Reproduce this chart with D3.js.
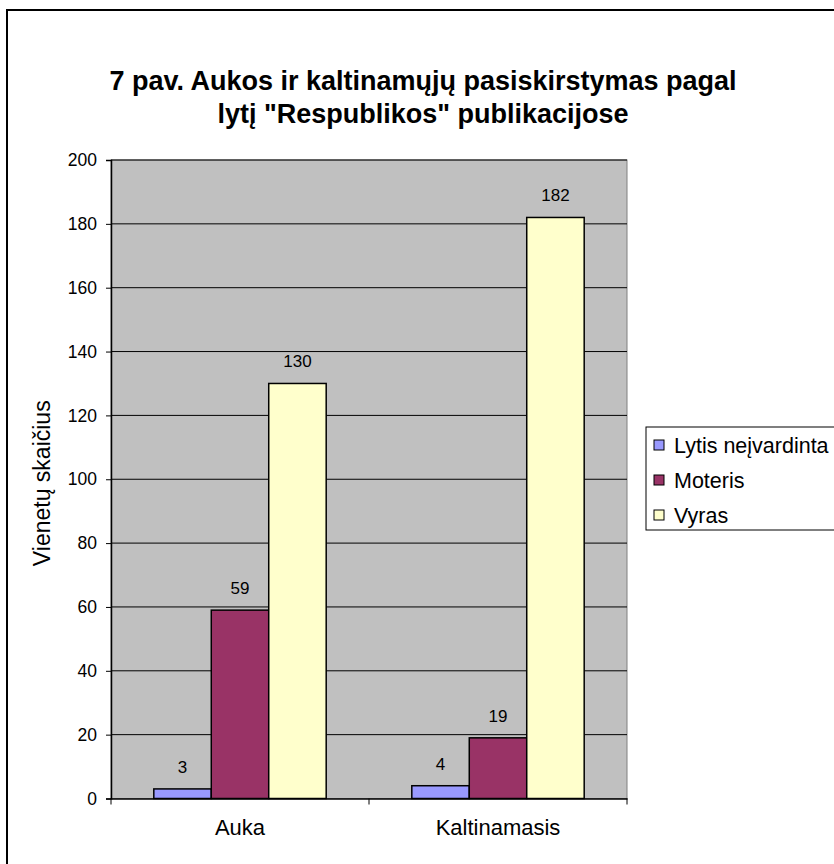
<!DOCTYPE html>
<html>
<head>
<meta charset="utf-8">
<script src="https://cdn.jsdelivr.net/npm/d3@7"></script>
<style>
  body { margin: 0; background: #fff; }
  text { font-family: "Liberation Sans", Arial, sans-serif; fill: #000; }
</style>
</head>
<body>
<div id="chart"></div>
<script>
// data
const categories = ["Auka", "Kaltinamasis"];
const seriesNames = ["Lytis neįvardinta", "Moteris", "Vyras"];
const lytisNeivardinta = [3, 4];
const moteris = [59, 19];
const vyras = [130, 182];
const yTicks = [0, 20, 40, 60, 80, 100, 120, 140, 160, 180, 200];
const colors = ["#9999ff", "#993366", "#ffffcc"];

const seriesValues = [lytisNeivardinta, moteris, vyras];
const rows = categories.map(function(c, i) {
  return { cat: c, vals: seriesNames.map(function(s, j) { return { name: s, value: seriesValues[j][i] }; }) };
});

const width = 834, height = 864;
const plot = { left: 111, top: 160, right: 627, bottom: 798.5 };

const svg = d3.select("#chart").append("svg")
  .attr("width", width)
  .attr("height", height);

// outer frame (right/bottom edges fall outside the picture)
svg.append("rect")
  .attr("x", 7).attr("y", 10)
  .attr("width", 850).attr("height", 880)
  .attr("fill", "#fff")
  .attr("stroke", "#000")
  .attr("stroke-width", 2);

// title
const title = svg.append("text")
  .attr("x", 423).attr("y", 90)
  .attr("text-anchor", "middle")
  .style("font-size", "27px")
  .style("font-weight", "bold");
title.append("tspan").attr("x", 423).attr("dy", 0)
  .text("7 pav. Aukos ir kaltinamųjų pasiskirstymas pagal");
title.append("tspan").attr("x", 423).attr("dy", 33)
  .text("lytį \"Respublikos\" publikacijose");

// scales
const x0 = d3.scaleBand().domain(categories).range([plot.left, plot.right]).paddingInner(0).paddingOuter(0);
const x1 = d3.scaleBand().domain(seriesNames).range([0, x0.bandwidth()]).paddingInner(0).paddingOuter(0.745);
const y = d3.scaleLinear().domain([0, 200]).range([plot.bottom, plot.top]);
const color = d3.scaleOrdinal().domain(seriesNames).range(colors);

// plot background
svg.append("rect")
  .attr("x", plot.left).attr("y", plot.top)
  .attr("width", plot.right - plot.left).attr("height", plot.bottom - plot.top)
  .attr("fill", "#c0c0c0")
  .attr("stroke", "#808080")
  .attr("stroke-width", 1);

// grid lines
svg.append("g")
  .selectAll("line")
  .data(yTicks.filter(function(d) { return d > 0; }))
  .enter().append("line")
  .attr("x1", plot.left).attr("x2", plot.right)
  .attr("y1", function(d) { return y(d); }).attr("y2", function(d) { return y(d); })
  .attr("stroke", "#000")
  .attr("stroke-width", 1);

// y axis
const yAxis = d3.axisLeft(y).tickValues(yTicks).tickSize(5).tickPadding(9);
const yAxisGroup = svg.append("g")
  .attr("transform", "translate(" + plot.left + ",0)")
  .call(yAxis);
yAxisGroup.select(".domain").attr("stroke", "#000").attr("stroke-width", 1.5);
yAxisGroup.selectAll(".tick line").attr("stroke", "#000");
yAxisGroup.selectAll("text").style("font-size", "17.5px").attr("fill", "#000");

// x axis
const xAxis = d3.axisBottom(x0).tickSize(0).tickPadding(21);
const xAxisGroup = svg.append("g")
  .attr("transform", "translate(0," + plot.bottom + ")")
  .call(xAxis);
xAxisGroup.select(".domain").attr("stroke", "#000").attr("stroke-width", 1.5);
xAxisGroup.selectAll("text").style("font-size", "22px").attr("fill", "#000");
// category boundary ticks
xAxisGroup.selectAll(".sep")
  .data([plot.left, x0("Kaltinamasis"), plot.right])
  .enter().append("line")
  .attr("class", "sep")
  .attr("x1", function(d) { return d; }).attr("x2", function(d) { return d; })
  .attr("y1", 0).attr("y2", 6)
  .attr("stroke", "#000");

// bars
const groups = svg.selectAll(".catGroup")
  .data(rows).enter().append("g")
  .attr("class", "catGroup")
  .attr("transform", function(d) { return "translate(" + x0(d.cat) + ",0)"; });

groups.selectAll("rect")
  .data(function(d) { return d.vals; })
  .enter().append("rect")
  .attr("x", function(d) { return x1(d.name); })
  .attr("y", function(d) { return y(d.value); })
  .attr("width", x1.bandwidth())
  .attr("height", function(d) { return plot.bottom - y(d.value); })
  .attr("fill", function(d) { return color(d.name); })
  .attr("stroke", "#000")
  .attr("stroke-width", 1.5);

groups.selectAll(".lbl")
  .data(function(d) { return d.vals; })
  .enter().append("text")
  .attr("class", "lbl")
  .attr("x", function(d) { return x1(d.name) + x1.bandwidth() / 2; })
  .attr("y", function(d) { return y(d.value) - 16; })
  .attr("text-anchor", "middle")
  .style("font-size", "17px")
  .text(function(d) { return d.value; });

// y axis title
svg.append("text")
  .attr("transform", "translate(50," + ((plot.top + plot.bottom) / 2 + 4) + ") rotate(-90)")
  .attr("text-anchor", "middle")
  .style("font-size", "23px")
  .text("Vienetų skaičius");

// legend
const legend = svg.append("g").attr("transform", "translate(646,427)");
legend.append("rect")
  .attr("width", 200).attr("height", 103)
  .attr("fill", "#fff")
  .attr("stroke", "#000")
  .attr("stroke-width", 1);
const item = legend.selectAll(".item")
  .data(seriesNames).enter().append("g")
  .attr("class", "item")
  .attr("transform", function(d, i) { return "translate(0," + (18 + i * 35) + ")"; });
item.append("rect")
  .attr("x", 8).attr("y", -5)
  .attr("width", 10).attr("height", 10)
  .attr("fill", function(d) { return color(d); })
  .attr("stroke", "#000");
item.append("text")
  .attr("x", 28).attr("y", 8)
  .style("font-size", "21.5px")
  .text(function(d) { return d; });
</script>
</body>
</html>
